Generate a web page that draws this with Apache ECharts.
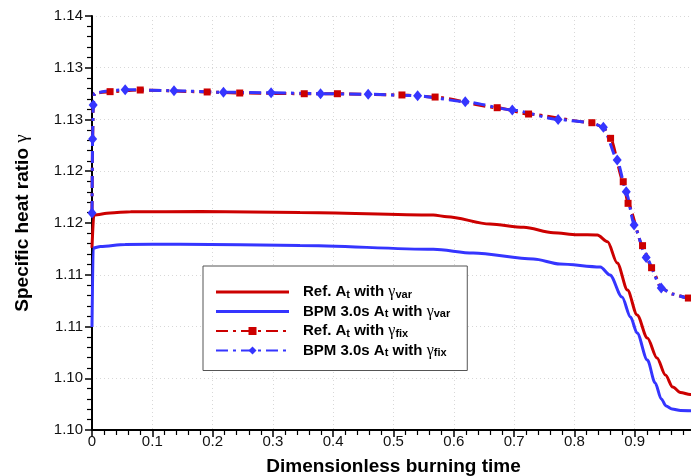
<!DOCTYPE html>
<html>
<head>
<meta charset="utf-8">
<script src="https://cdn.jsdelivr.net/npm/echarts@6/dist/echarts.min.js"></script>
<style>
  html, body { margin: 0; padding: 0; background: #fff; }
  #chart { width: 691px; height: 476px; }
</style>
</head>
<body>
<div id="chart"></div>
<script>
// Tick labels (two-decimal rounding of 0.005 steps)
const yTickLabels = ['1.10', '1.10', '1.11', '1.11', '1.12', '1.12', '1.13', '1.13', '1.14'];
const xTickLabels = ['0', '0.1', '0.2', '0.3', '0.4', '0.5', '0.6', '0.7', '0.8', '0.9', '1'];

// Reference throat area, variable gamma
const refVarX = [0, 0.003, 0.03, 0.064, 0.18, 0.345, 0.566, 0.589, 0.66, 0.716, 0.765, 0.805, 0.838,
  0.855, 0.871, 0.888, 0.904, 0.921, 0.937, 0.951, 0.963, 0.976, 0.992, 1.0];
const refVarY = [1.1176, 1.12077, 1.12097, 1.12109, 1.1211, 1.12101, 1.12077, 1.12061, 1.1199, 1.11958,
  1.11906, 1.11887, 1.11884, 1.11819, 1.11614, 1.11353, 1.11111, 1.10889, 1.10696, 1.10531, 1.10415,
  1.10362, 1.10343, 1.1034];

// BPM 3.0s throat area, variable gamma
const bpmVarX = [0, 0.002, 0.014, 0.055, 0.146, 0.345, 0.566, 0.632, 0.732, 0.776, 0.843, 0.859, 0.879,
  0.893, 0.904, 0.921, 0.934, 0.944, 0.952, 0.962, 0.976, 1.0];
const bpmVarY = [1.10995, 1.11758, 1.11773, 1.11792, 1.11795, 1.11783, 1.11746, 1.1171, 1.11652, 1.11604,
  1.11575, 1.11498, 1.11285, 1.11092, 1.10937, 1.10676, 1.10454, 1.103, 1.10232, 1.10203, 1.10188, 1.10184];

// Reference throat area, fixed gamma (mark = 1 where a symbol is drawn)
const refFixX = [0, 0.001, 0.002, 0.004, 0.030, 0.080, 0.191, 0.245, 0.352, 0.407, 0.514, 0.569, 0.672,
  0.724, 0.829, 0.848, 0.860, 0.881, 0.889, 0.913, 0.928, 0.944, 0.962, 0.989, 1.0];
const refFixY = [1.12097, 1.12812, 1.1314, 1.13256, 1.13269, 1.13285, 1.13266, 1.13256, 1.13249, 1.13249,
  1.13237, 1.13217, 1.13114, 1.13053, 1.12969, 1.12925, 1.12818, 1.12399, 1.1219, 1.11781, 1.11568,
  1.11372, 1.11314, 1.11275, 1.1127];
const refFixMark = [0, 0, 0, 0, 1, 1, 1, 1, 1, 1, 1, 1, 1, 1, 1, 0, 1, 1, 1, 1, 1, 0, 0, 1, 0];

// BPM 3.0s throat area, fixed gamma
const bpmFixX = [0, 0.001, 0.002, 0.004, 0.027, 0.055, 0.136, 0.218, 0.297, 0.379, 0.458, 0.540, 0.619,
  0.697, 0.773, 0.829, 0.848, 0.871, 0.886, 0.899, 0.919, 0.944, 0.962, 0.988, 1.0];
const bpmFixY = [1.12097, 1.12812, 1.1314, 1.13256, 1.13275, 1.13288, 1.13278, 1.13263, 1.13259, 1.13249,
  1.13244, 1.1323, 1.13172, 1.13092, 1.13, 1.12969, 1.12925, 1.12609, 1.12302, 1.11981, 1.11667,
  1.11372, 1.11314, 1.11275, 1.1127];
const bpmFixMark = [1, 1, 1, 0, 0, 1, 1, 1, 1, 1, 1, 1, 1, 1, 1, 0, 1, 1, 1, 1, 1, 1, 0, 0, 0];

const RED = '#cc0000';
const BLUE = '#3535ff';
const FONT = '"Liberation Sans", Arial, Helvetica, sans-serif';
const DASH_DOT = [12, 5, 3, 5];
const SOLID_ICON = 'path://M0,0h73v3h-73z';

function pairs(xs, ys) {
  return xs.map((x, i) => [x, ys[i]]);
}
function marked(xs, ys, marks) {
  return xs.map((x, i) => marks[i] ? { value: [x, ys[i]] } : { value: [x, ys[i]], symbol: 'none' });
}

const names = {
  refVar: 'Ref. At with γvar',
  bpmVar: 'BPM 3.0s At with γvar',
  refFix: 'Ref. At with γfix',
  bpmFix: 'BPM 3.0s At with γfix'
};
const legendRich = {};
legendRich[names.refVar] = '{m|Ref. A}{s|t}{m| with }{g|γ}{s|var}';
legendRich[names.bpmVar] = '{m|BPM 3.0s A}{s|t}{m| with }{g|γ}{s|var}';
legendRich[names.refFix] = '{m|Ref. A}{s|t}{m| with }{g|γ}{s|fix}';
legendRich[names.bpmFix] = '{m|BPM 3.0s A}{s|t}{m| with }{g|γ}{s|fix}';

const chart = echarts.init(document.getElementById('chart'), null, { renderer: 'canvas' });

const axisCommon = {
  axisLine: { show: true, onZero: false, lineStyle: { color: '#000', width: 2 } },
  axisTick: { show: true, inside: false, length: 7, lineStyle: { color: '#000', width: 1.5 } },
  minorTick: { show: true, splitNumber: 5, length: 5, lineStyle: { color: '#000', width: 1.2 } },
  splitLine: { show: true, lineStyle: { color: '#d8d8d8', width: 1, type: [1, 3] } },
  minorSplitLine: { show: false }
};

chart.setOption({
  animation: false,
  backgroundColor: '#fff',
  grid: { left: 92, right: -4, top: 16, bottom: 46, containLabel: false, outerBoundsMode: 'none' },
  xAxis: Object.assign({
    type: 'value',
    min: 0, max: 1, interval: 0.1,
    name: 'Dimensionless burning time',
    nameLocation: 'middle',
    nameGap: 27,
    nameTextStyle: { fontFamily: FONT, fontWeight: 'bold', fontSize: 19, color: '#000' },
    axisLabel: {
      margin: 4, fontFamily: FONT, fontSize: 15, color: '#111',
      formatter: v => xTickLabels[Math.round(v / 0.1)]
    }
  }, axisCommon),
  yAxis: Object.assign({
    type: 'value',
    min: 1.10, max: 1.14, interval: 0.005,
    name: '{b|Specific heat ratio }{g|γ}',
    nameLocation: 'middle',
    nameRotate: 90,
    nameGap: 60,
    nameTextStyle: {
      rich: {
        b: { fontFamily: FONT, fontWeight: 'bold', fontSize: 19, color: '#000' },
        g: { fontFamily: '"Liberation Serif", serif', fontSize: 19, color: '#000' }
      }
    },
    axisLabel: {
      margin: 9, fontFamily: FONT, fontSize: 15, color: '#111',
      formatter: v => yTickLabels[Math.round((v - 1.10) / 0.005)]
    }
  }, axisCommon),
  legend: {
    orient: 'vertical',
    left: 203, top: 266,
    padding: [18, 17, 12, 12],
    itemWidth: 73, itemHeight: 10, itemGap: 3.5,
    backgroundColor: '#fff',
    borderColor: '#555', borderWidth: 1,
    selectedMode: false,
    data: [
      { name: names.refVar, icon: SOLID_ICON, itemStyle: { color: RED } },
      { name: names.bpmVar, icon: SOLID_ICON, itemStyle: { color: BLUE } },
      { name: names.refFix },
      { name: names.bpmFix }
    ],
    formatter: n => legendRich[n],
    textStyle: {
      padding: [0, 0, 0, 9],
      rich: {
        m: { fontFamily: FONT, fontWeight: 'bold', fontSize: 15, color: '#000', lineHeight: 16 },
        g: { fontFamily: '"Liberation Serif", serif', fontSize: 16, color: '#000', lineHeight: 16 },
        s: { fontFamily: FONT, fontWeight: 'bold', fontSize: 11, color: '#000', lineHeight: 7, verticalAlign: 'bottom' }
      }
    }
  },
  series: [
    {
      name: names.refVar, type: 'line', data: pairs(refVarX, refVarY),
      showSymbol: false, symbol: 'none', smooth: 0.3, smoothMonotone: 'x',
      lineStyle: { color: RED, width: 3 }, itemStyle: { color: RED }
    },
    {
      name: names.bpmVar, type: 'line', data: pairs(bpmVarX, bpmVarY),
      showSymbol: false, symbol: 'none', smooth: 0.3, smoothMonotone: 'x',
      lineStyle: { color: BLUE, width: 3 }, itemStyle: { color: BLUE }
    },
    {
      name: names.refFix, type: 'line', data: marked(refFixX, refFixY, refFixMark),
      symbol: 'rect', symbolSize: 7, showSymbol: true, smooth: 0.2, smoothMonotone: 'x',
      lineStyle: { color: RED, width: 3, type: DASH_DOT }, itemStyle: { color: RED }
    },
    {
      name: names.bpmFix, type: 'line', data: marked(bpmFixX, bpmFixY, bpmFixMark),
      symbol: 'diamond', symbolSize: [9, 11], showSymbol: true, smooth: 0.2, smoothMonotone: 'x',
      lineStyle: { color: BLUE, width: 3, type: DASH_DOT }, itemStyle: { color: BLUE }
    }
  ]
});
</script>
</body>
</html>
